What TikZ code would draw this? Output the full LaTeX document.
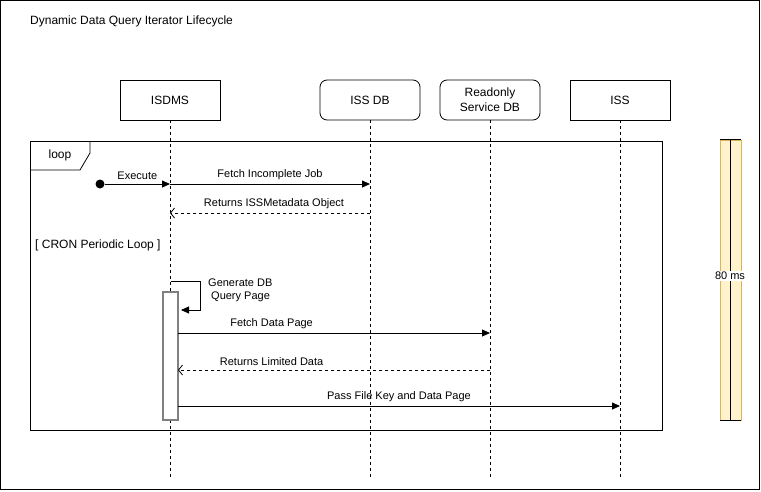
\documentclass[tikz,border=0pt]{standalone}
\usepackage{fontspec}
\setmainfont{Liberation Sans}
\usetikzlibrary{arrows.meta}
\definecolor{barfill}{HTML}{FFF2CC}
\definecolor{baredge}{HTML}{D6B656}
\definecolor{actgray}{HTML}{808080}
\begin{document}
\begin{tikzpicture}[x=1pt,y=-1pt,
  lbl/.style={font=\fontsize{11}{13}\selectfont, inner sep=0pt},
  actor/.style={draw, line width=0.8pt, minimum width=100pt, minimum height=40pt,
    font=\fontsize{12}{15}\selectfont, align=center, inner sep=0pt},
  life/.style={line width=0.7pt, dash pattern=on 3pt off 3pt},
  msg/.style={line width=0.8pt, -{Triangle[length=8pt,width=7pt]}},
  ret/.style={line width=0.8pt, dash pattern=on 3pt off 3pt, -{Straight Barb[length=4pt,width=10pt]}},
  frame/.style={line width=0.8pt}]
\useasboundingbox (0,0) rectangle (761,491);
\draw[frame] (0.5,0.5) rectangle (759.5,489.5);
\node[font=\fontsize{12}{14}\selectfont, anchor=west, inner sep=0pt] (title) at (30,21) {Dynamic Data Query Iterator Lifecycle};

% actors
\node[actor] (isdms) at (170,100) {ISDMS};
\node[actor, rounded corners=7pt] (issdb) at (370,100) {ISS DB};
\node[actor, rounded corners=7pt] (ro) at (490,100) {Readonly\\Service DB};
\node[actor] (iss) at (620,100) {ISS};

% lifeline ends
\coordinate (isdmsE) at (170,478);
\coordinate (issdbE) at (370,478);
\coordinate (roE) at (490,478);
\coordinate (issE) at (620,478);
\draw[life] (isdms.south) -- (isdmsE);
\draw[life] (issdb.south) -- (issdbE);
\draw[life] (ro.south) -- (roE);
\draw[life] (iss.south) -- (issE);

% loop frame
\draw[frame] (30,141) rectangle (662,430);
\draw[frame] (30,170) -- (80,170) -- (90,153) -- (90,141);
\node[lbl, font=\fontsize{12}{14}\selectfont] (looplbl) at (60,155.5) {loop};
\node[lbl, font=\fontsize{12}{14}\selectfont, anchor=west] (cron) at (35,245) {[ CRON Periodic Loop ]};

% execute
\node[circle, fill, inner sep=0pt, minimum size=9pt] (start) at (100,184) {};
\coordinate (m1) at (170,184);
\coordinate (m1e) at (370,184);
\draw[msg] (start) -- (m1) node[lbl, midway, above=4pt] {Execute};
\draw[msg] (m1) -- (m1e) node[lbl, midway, above=4pt] (l2) {Fetch Incomplete Job};

\coordinate (r1s) at (370,213);
\coordinate (r1e) at (170,213);
\draw[ret] (r1s) -- (r1e) node[lbl, pos=0.48, above=4pt] {Returns ISSMetadata Object};

% activation
\node[draw=actgray, line width=1.5pt, fill=white, minimum width=15pt, minimum height=128pt, inner sep=0pt] (act) at (170.5,356) {};

% self message
\coordinate (s0) at (171,281);
\coordinate (s1) at (200,281);
\coordinate (s2) at (200,310);
\coordinate (s3) at (181,310);
\draw[msg] (s0) -- (s1) -- (s2) -- (s3);
\node[lbl, align=left, anchor=north west, font=\fontsize{11}{13}\selectfont] (gen) at (208,279) {Generate DB\\\hspace*{3pt}Query Page};

% fetch data page
\coordinate (f0) at (178,333);
\coordinate (f1) at (490,333);
\draw[msg] (f0) -- (f1) node[lbl, pos=0.3, above=4pt] {Fetch Data Page};

\coordinate (g0) at (490,370);
\coordinate (g1) at (178,370);
\draw[ret] (g0) -- (g1) node[lbl, pos=0.7, above=4pt] {Returns Limited Data};

\coordinate (p0) at (178,406);
\coordinate (p1) at (620,406);
\draw[msg] (p0) -- (p1) node[lbl, pos=0.5, above=4pt] {Pass File Key and Data Page};

% duration bar
\node[fill=barfill, draw=baredge, line width=0.5pt, minimum width=21pt, minimum height=280pt, inner sep=0pt] (bar) at (730.5,280) {};
\draw[line width=0.7pt] (bar.north) -- (bar.south);
\draw[line width=0.7pt] (bar.north west) -- (bar.north east);
\draw[line width=0.7pt] (bar.south west) -- (bar.south east);
\node[lbl, fill=white, inner sep=1pt] (dur) at (730,276) {80 ms};
\end{tikzpicture}
\end{document}
